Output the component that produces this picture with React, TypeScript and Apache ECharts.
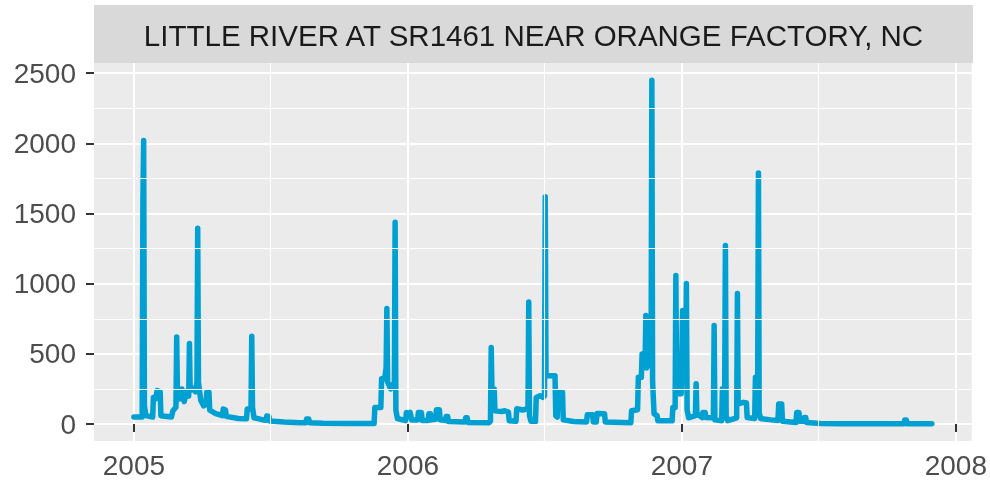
import React, { useEffect, useRef } from "react";
import * as echarts from "echarts";

const TITLE = "LITTLE RIVER AT SR1461 NEAR ORANGE FACTORY, NC";

// Daily discharge readings (cfs), at dates where the series changes
const dates = [
  // 2005
  "2005-01-01", "2005-01-12", "2005-01-13", "2005-01-14", "2005-01-15", "2005-01-17", "2005-01-26", "2005-01-27",
  "2005-01-30", "2005-02-01", "2005-02-05", "2005-02-06", "2005-02-20", "2005-02-22", "2005-02-26", "2005-02-27",
  "2005-02-28", "2005-03-03", "2005-03-06", "2005-03-09", "2005-03-12", "2005-03-15", "2005-03-16", "2005-03-17",
  "2005-03-20", "2005-03-24", "2005-03-26", "2005-03-27", "2005-03-28", "2005-03-31", "2005-04-04", "2005-04-07",
  "2005-04-08", "2005-04-11", "2005-04-12", "2005-04-20", "2005-04-29", "2005-04-30", "2005-05-03", "2005-05-04",
  "2005-05-20", "2005-05-31", "2005-06-01", "2005-06-06", "2005-06-07", "2005-06-08", "2005-06-10", "2005-06-22",
  "2005-06-26", "2005-06-27", "2005-06-30", "2005-07-01", "2005-07-20", "2005-08-10", "2005-08-18", "2005-08-19",
  "2005-08-22", "2005-08-23", "2005-09-10", "2005-10-15", "2005-11-17", "2005-11-18", "2005-11-26", "2005-11-27",
  "2005-12-01", "2005-12-03", "2005-12-04", "2005-12-05", "2005-12-09", "2005-12-14", "2005-12-15", "2005-12-16",
  "2005-12-18", "2005-12-29", "2005-12-30", "2006-01-02",
  // 2006
  "2006-01-04", "2006-01-06", "2006-01-14", "2006-01-15", "2006-01-19", "2006-01-20", "2006-01-28", "2006-01-29",
  "2006-01-31", "2006-02-01", "2006-02-07", "2006-02-08", "2006-02-12", "2006-02-13", "2006-02-20", "2006-02-21",
  "2006-02-23", "2006-02-24", "2006-03-18", "2006-03-19", "2006-03-21", "2006-03-22", "2006-04-19", "2006-04-21",
  "2006-04-22", "2006-04-23", "2006-04-26", "2006-04-27", "2006-05-06", "2006-05-10", "2006-05-15", "2006-05-16",
  "2006-05-25", "2006-05-26", "2006-06-03", "2006-06-08", "2006-06-10", "2006-06-11", "2006-06-12", "2006-06-14",
  "2006-06-20", "2006-06-21", "2006-06-26", "2006-06-30", "2006-07-02", "2006-07-03", "2006-07-04", "2006-07-16",
  "2006-07-17", "2006-07-19", "2006-07-20", "2006-07-26", "2006-07-27", "2006-08-10", "2006-08-27", "2006-08-28",
  "2006-09-04", "2006-09-05", "2006-09-09", "2006-09-10", "2006-09-20", "2006-09-21", "2006-10-25", "2006-10-26",
  "2006-11-03", "2006-11-04", "2006-11-08", "2006-11-09", "2006-11-10", "2006-11-13", "2006-11-14", "2006-11-15",
  "2006-11-20", "2006-11-21", "2006-11-22", "2006-11-23", "2006-11-25", "2006-11-29", "2006-11-30", "2006-12-19",
  "2006-12-20", "2006-12-23", "2006-12-24", "2006-12-25", "2006-12-31",
  // 2007
  "2007-01-02", "2007-01-03", "2007-01-06", "2007-01-07", "2007-01-08", "2007-01-10", "2007-01-19", "2007-01-20",
  "2007-01-21", "2007-01-28", "2007-01-29", "2007-02-01", "2007-02-02", "2007-02-12", "2007-02-13", "2007-02-14",
  "2007-02-23", "2007-02-24", "2007-02-27", "2007-02-28", "2007-03-01", "2007-03-03", "2007-03-15", "2007-03-16",
  "2007-03-17", "2007-03-24", "2007-03-28", "2007-03-29", "2007-04-08", "2007-04-09", "2007-04-12", "2007-04-13",
  "2007-04-14", "2007-04-16", "2007-04-30", "2007-05-09", "2007-05-10", "2007-05-14", "2007-05-15", "2007-06-02",
  "2007-06-03", "2007-06-06", "2007-06-07", "2007-06-12", "2007-06-13", "2007-06-15", "2007-06-16", "2007-07-05",
  "2007-08-01", "2007-10-24", "2007-10-25", "2007-10-27", "2007-10-28", "2007-11-30",
];

const flow = [
  // 2005
  50, 50, 1600, 2020, 130, 60, 50, 190,
  180, 240, 230, 60, 50, 95, 120, 620,
  230, 180, 250, 160, 230, 200, 575, 240,
  255, 230, 300, 1395, 300, 170, 130, 140,
  226, 226, 100, 75, 60, 107, 100, 55,
  40, 38, 107, 110, 625, 120, 45, 30,
  28, 57, 55, 22, 15, 10, 10, 36,
  36, 10, 6, 5, 5, 119, 119, 323,
  323, 400, 823, 300, 250, 300, 1438, 100,
  40, 25, 83, 70,
  // 2006
  83, 30, 30, 83, 83, 25, 25, 73,
  73, 30, 35, 102, 102, 30, 25, 55,
  55, 18, 15, 45, 45, 12, 10, 20,
  545, 250, 250, 95, 90, 95, 85, 24,
  20, 109, 100, 109, 120, 869, 60, 20,
  20, 190, 202, 190, 200, 1620, 345, 345,
  60, 50, 226, 226, 30, 18, 15, 66,
  66, 15, 15, 76, 73, 15, 10, 95,
  102, 333, 333, 500, 400, 450, 773, 400,
  450, 500, 2450, 300, 73, 60, 24, 24,
  119, 119, 1059, 216, 216,
  // 2007
  809, 300, 300, 1002, 100, 45, 60, 288,
  75, 47, 83, 83, 47, 45, 702, 30,
  24, 252, 252, 1273, 60, 24, 45, 930,
  145, 155, 150, 47, 40, 333, 333, 1788,
  80, 40, 30, 25, 143, 143, 20, 12,
  83, 83, 20, 20, 47, 47, 12, 5,
  3, 3, 30, 30, 3, 2,
];

const yTicks = [0, 500, 1000, 1500, 2000, 2500];
const yMinorTicks = [250, 750, 1250, 1750, 2250];
const xTickDates = ["2005-01-01", "2006-01-01", "2007-01-01", "2008-01-01"];
const xMinorDates = ["2005-07-02", "2006-07-02", "2007-07-02"];

const ts = (d: string) => {
  const [y, m, dd] = d.split("-").map(Number);
  return Date.UTC(y, m - 1, dd);
};

const FONT = "Liberation Sans, Arial, Helvetica, sans-serif";

export default function App() {
  const ref = useRef<HTMLDivElement>(null);
  useEffect(() => {
    const chart = echarts.init(ref.current!, null, { renderer: "svg" });
    const xs = dates.map(ts);
    const x0 = xs[0];
    const x1 = xs[xs.length - 1];
    const xPad = (x1 - x0) * 0.05;
    const yHi = Math.max(...flow);
    const yLo = Math.min(...flow);
    const yPad = (yHi - yLo) * 0.05;
    const gLeft = 94;
    const gRight = 17;
    const gTop = 63;
    const gBottom = 43;
    chart.setOption({
      animation: false,
      grid: {
        left: gLeft,
        right: gRight,
        top: gTop,
        bottom: gBottom,
        show: true,
        backgroundColor: "#EBEBEB",
        borderWidth: 0,
      },
      graphic: [
        {
          type: "rect",
          shape: { x: gLeft, y: 5, width: 990 - gLeft - gRight, height: gTop - 5 },
          style: { fill: "#D9D9D9" },
          silent: true,
        },
        {
          type: "text",
          x: gLeft + (990 - gLeft - gRight) / 2,
          y: (gTop + 5) / 2 + 1,
          style: {
            text: TITLE,
            fill: "#1A1A1A",
            font: `29.5px ${FONT}`,
            align: "center",
            verticalAlign: "middle",
          },
          silent: true,
        },
      ],
      xAxis: {
        type: "value",
        min: x0 - xPad,
        max: x1 + xPad,
        axisLine: { show: false },
        axisTick: {
          show: true,
          customValues: xTickDates.map(ts),
          length: 8,
          lineStyle: { color: "#333333", width: 2 },
        },
        axisLabel: {
          customValues: xTickDates.map(ts),
          formatter: (v: number) => String(new Date(v).getUTCFullYear()),
          color: "#4D4D4D",
          fontSize: 28,
          fontFamily: FONT,
          margin: 10,
          hideOverlap: false,
        },
        splitLine: { show: true, lineStyle: { color: "#FFFFFF", width: 2 } },
      },
      yAxis: {
        type: "value",
        min: yLo - yPad,
        max: yHi + yPad,
        axisLine: { show: false },
        axisTick: {
          show: true,
          customValues: yTicks,
          length: 8,
          lineStyle: { color: "#333333", width: 2 },
        },
        axisLabel: {
          customValues: yTicks,
          formatter: (v: number) => String(v),
          color: "#4D4D4D",
          fontSize: 28,
          fontFamily: FONT,
          margin: 18,
        },
        splitLine: { show: true, lineStyle: { color: "#FFFFFF", width: 2 } },
      },
      series: [
        {
          type: "line",
          data: [],
          z: 1,
          silent: true,
          markLine: {
            silent: true,
            symbol: ["none", "none"],
            label: { show: false },
            emphasis: { disabled: true },
            lineStyle: { color: "#FFFFFF", width: 1.1, type: "solid" },
            data: [
              ...yMinorTicks.map((v) => ({ yAxis: v })),
              ...xMinorDates.map((d) => ({ xAxis: ts(d) })),
            ],
          },
        },
        {
          type: "line",
          z: 3,
          silent: true,
          showSymbol: false,
          symbol: "none",
          data: xs.map((x, i) => [x, flow[i]]),
          lineStyle: { color: "#00A0D2", width: 5.5, join: "round", cap: "round" },
        },
      ],
    });
    return () => chart.dispose();
  }, []);
  return (
    <div
      ref={ref}
      style={{ position: "fixed", left: 0, top: 0, width: 990, height: 484 }}
    />
  );
}
